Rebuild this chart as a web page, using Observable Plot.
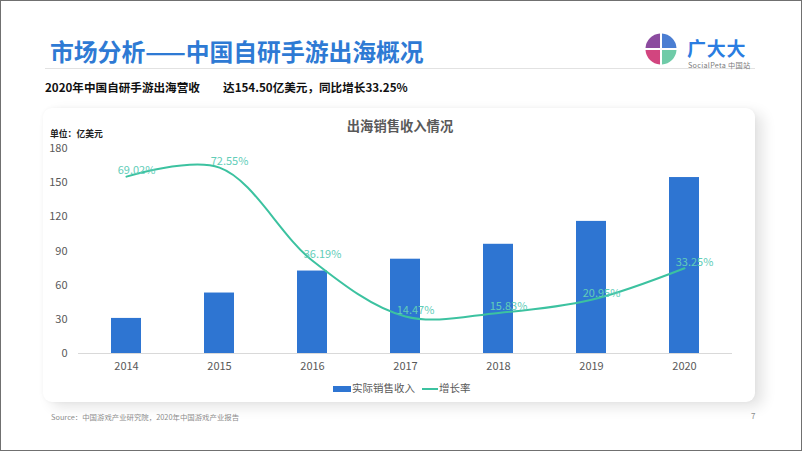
<!DOCTYPE html>
<html>
<head>
<meta charset="utf-8">
<script src="https://cdn.jsdelivr.net/npm/d3@7"></script>
<script src="https://cdn.jsdelivr.net/npm/@observablehq/plot@0.6"></script>
<style>
  html, body { margin: 0; padding: 0; background: #fff; }
  body { width: 802px; height: 451px; position: relative; overflow: hidden;
         font-family: "Noto Sans CJK SC", "Noto Sans", sans-serif; }
  .abs { position: absolute; white-space: nowrap; line-height: 1; }
  #frame { position: absolute; left: 0; top: 0; width: 802px; height: 451px;
           box-sizing: border-box; border: 1.5px solid #707070; pointer-events: none; z-index: 10; }
  #card { position: absolute; left: 43px; top: 108px; width: 712px; height: 294px;
          background: #fff; border-radius: 9px;
          box-shadow: 8px 5px 14px rgba(0,0,0,0.11), 0 0 4px rgba(0,0,0,0.04); }
  #chart { position: absolute; left: 0; top: 130px; }
</style>
</head>
<body>
<div id="frame"></div>
<div class="abs" style="left:50px;top:39px;font-size:23.8px;font-weight:700;color:#2E7AD4;">市场分析——中国自研手游出海概况</div>
<div style="position:absolute;left:45px;top:68px;width:710px;height:1px;background:#e2e2e2;"></div>
<svg style="position:absolute;left:644px;top:32px;" width="34" height="34" viewBox="-17 -17 34 34">
  <path d="M-1,-1 L-1,-15.5 A15.5,15.5 0 0 0 -15.5,-1 Z" fill="#8B4B9F"/>
  <path d="M1,-1 L15.5,-1 A15.5,15.5 0 0 0 1,-15.5 Z" fill="#4B7ED2"/>
  <path d="M-1,1 L-15.5,1 A15.5,15.5 0 0 0 -1,15.5 Z" fill="#D2457F"/>
  <path d="M1,1 L1,15.5 A15.5,15.5 0 0 0 15.5,1 Z" fill="#6FCBA8"/>
</svg>
<div class="abs" style="left:687px;top:38px;font-size:19px;line-height:19px;font-weight:700;color:#2A7DE1;letter-spacing:0.8px;">广大大</div>
<div class="abs" style="left:688px;top:62px;font-size:7.2px;line-height:7.2px;color:#7a7a7a;letter-spacing:0.3px;">SocialPeta 中国站</div>
<div class="abs" style="left:45px;top:82px;font-size:11.6px;font-weight:700;color:#111;">2020年中国自研手游出海营收　　达154.50亿美元，同比增长33.25%</div>
<div id="card"></div>
<div class="abs" style="left:400px;top:119px;transform:translateX(-50%);font-size:13.3px;font-weight:700;color:#595959;">出海销售收入情况</div>
<div class="abs" style="left:50px;top:130px;font-size:8.8px;font-weight:700;color:#222;">单位：亿美元</div>
<div id="chart"></div>
<div style="position:absolute;left:333px;top:386px;width:18px;height:6px;background:#2E75D2;"></div>
<div class="abs" style="left:352px;top:383px;font-size:10.5px;color:#595959;">实际销售收入</div>
<div style="position:absolute;left:422px;top:388px;width:16px;height:2px;background:#3CC2A0;"></div>
<div class="abs" style="left:439px;top:383px;font-size:10.5px;color:#595959;">增长率</div>
<div class="abs" style="left:51px;top:413px;font-size:7.4px;color:#8c8c8c;">Source：中国游戏产业研究院，2020年中国游戏产业报告</div>
<div class="abs" style="left:751px;top:412px;font-size:8px;color:#8c8c8c;">7</div>
<script>
// Data
const years = ["2014", "2015", "2016", "2017", "2018", "2019", "2020"];
const revenue = [30.8, 53.1, 72.4, 82.8, 95.9, 116.0, 154.5];   // 亿美元
const growth = [69.02, 72.55, 36.19, 14.47, 15.83, 20.95, 33.25]; // %
const yTicks = [0, 30, 60, 90, 120, 150, 180];
const growthAxisMax = 80; // hidden secondary axis maximum (%)

const rows = years.map((year, i) => ({year, revenue: revenue[i], growth: growth[i]}));
const yMax = 180;
const toPrimary = d => d.growth * yMax / growthAxisMax;

const chart = Plot.plot({
  width: 802,
  height: 260,
  marginLeft: 78,
  marginRight: 70,
  marginTop: 18,
  marginBottom: 37,
  style: {background: "transparent", fontFamily: "'Noto Sans CJK SC', 'Noto Sans', sans-serif", fontSize: "11px", color: "#595959", overflow: "visible"},
  x: {domain: years, paddingInner: 0.68, paddingOuter: 0.34, label: null, tickSize: 0, tickPadding: 9},
  y: {domain: [0, yMax], ticks: yTicks, label: null, tickSize: 0, tickPadding: 11},
  marks: [
    Plot.ruleY([0], {stroke: "#d9d9d9", strokeWidth: 1}),
    Plot.barY(rows, {x: "year", y: "revenue", fill: "#2E75D2"}),
    Plot.line(rows, {x: "year", y: toPrimary, stroke: "#3CC2A0", strokeWidth: 2, curve: "catmull-rom"}),
    Plot.text(rows, {x: "year", y: toPrimary, text: d => d.growth.toFixed(2) + "%", dx: 10, dy: -6, fill: "#62CDB8", fontSize: 11})
  ]
});
document.getElementById("chart").appendChild(chart);
</script>
</body>
</html>
